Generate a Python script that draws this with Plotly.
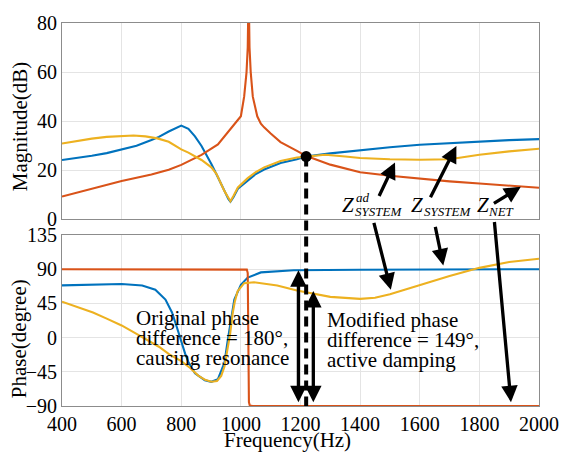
import plotly.graph_objects as go

# ---------------- data ----------------
# Magnitude (dB)
f_sys_mag = [400, 450, 500, 550, 600, 650, 700, 725, 758, 780, 800, 824, 846, 868, 884, 901,
             923, 945, 958, 965, 975, 990, 1023, 1050, 1078, 1133, 1188, 1218, 1300, 1400,
             1500, 1600, 1700, 1800, 1900, 2000]
z_sys_mag = [24.2, 25.0, 25.9, 27.0, 28.5, 30.0, 32.3, 33.6, 35.8, 37.2, 38.2, 36.9, 33.8, 29.9,
             26.5, 22.6, 17.2, 11.3, 8.3, 7.2, 9.0, 12.5, 15.9, 18.5, 20.3, 23.0, 24.5, 25.6,
             26.9, 28.3, 29.4, 30.4, 31.1, 31.8, 32.3, 32.7]

f_net_mag = [400, 500, 600, 700, 758, 800, 868, 923, 967, 984, 1000, 1011, 1019, 1023, 1026,
             1029, 1033, 1040, 1045, 1055, 1067, 1078, 1100, 1133, 1188, 1218, 1300, 1400,
             1500, 1600, 1700, 1800, 1900, 2000]
z_net_mag = [9.3, 12.5, 15.6, 18.3, 20.2, 22.2, 26.3, 30.5, 37.1, 39.5, 42.0, 50.0, 60.0, 70.0,
             95.0, 70.0, 60.0, 50.0, 47.0, 42.0, 39.0, 37.5, 35.0, 31.5, 27.9, 25.9, 22.3,
             19.2, 17.8, 16.6, 15.5, 14.6, 13.7, 12.9]

f_ad_mag = [400, 450, 500, 550, 600, 640, 680, 720, 758, 800, 824, 853, 868, 901, 918, 945, 958,
            965, 975, 990, 1023, 1050, 1078, 1133, 1188, 1218, 1283, 1350, 1400, 1500, 1600,
            1700, 1800, 1900, 2000]
z_ad_mag = [30.9, 32.0, 32.9, 33.6, 34.0, 34.2, 33.8, 33.0, 31.6, 28.5, 27.2, 25.2, 24.2, 21.2,
            18.6, 11.5, 8.5, 7.4, 9.5, 13.0, 16.8, 19.3, 21.2, 23.8, 25.2, 25.6, 26.3, 25.6,
            25.0, 24.5, 24.3, 24.5, 26.3, 27.7, 28.8]

# Phase (degree)
f_sys_ph = [400, 500, 600, 669, 713, 747, 769, 785, 800, 813, 824, 846, 879, 901, 923, 945, 956,
            967, 978, 1000, 1023, 1067, 1177, 1400, 1700, 2000]
p_sys_ph = [68.7, 69.5, 70.5, 68.6, 63.0, 50.0, 33.0, 14.0, -6.0, -21.0, -32.0, -47.0, -56.0,
            -58.2, -54.8, -33.0, -3.4, 26.6, 50.0, 69.4, 78.9, 85.8, 88.7, 89.3, 89.8, 90.0]

f_net_ph = [400, 1000, 1020, 1023, 1025, 1027, 1030, 1040, 2000]
p_net_ph = [90.0, 90.0, 89.5, 85.0, 0.0, -85.0, -89.5, -90.0, -90.0]

f_ad_ph = [400, 450, 504, 550, 600, 650, 700, 725, 760, 800, 830, 857, 880, 901, 920, 934, 945,
           956, 964, 972, 980, 989, 1000, 1011, 1044, 1080, 1122, 1188, 1243, 1300, 1400, 1450,
           1500, 1550, 1600, 1700, 1800, 1900, 2000]
p_ad_ph = [47.2, 40.5, 33.0, 25.0, 16.0, 5.0, -6.0, -12.0, -22.0, -31.0, -40.0, -50.0, -55.5,
           -58.0, -57.0, -50.5, -38.0, -16.0, 5.0, 31.0, 48.0, 61.0, 67.0, 71.6, 72.9, 71.0,
           68.5, 62.0, 58.0, 53.6, 51.0, 52.5, 57.0, 63.0, 69.4, 81.0, 91.8, 99.5, 103.7]

# Operating point (intersection) and phase-difference markers
f_cross, mag_cross = 1219, 25.6
f_orig_arrow, ph_orig = 1193, [88.5, -87.0]
f_mod_arrow, ph_mod = 1243, [61.3, -87.0]

x_ticks = [400, 600, 800, 1000, 1200, 1400, 1600, 1800, 2000]
mag_ticks = [0, 20, 40, 60, 80]
ph_ticks = [-90, -45, 0, 45, 90, 135]

# ---------------- layout geometry ----------------
W, H = 571, 453
ML, MR, MT, MB = 62, 25.5, 14, 47
PW, PH = W - ML - MR, H - MT - MB
TOP_PX = (14, 215)
BOT_PX = (231, 406)


def pxx(x):
    return (x - ML) / PW


def pxy(y):
    return (H - MB - y) / PH


top_dom = [pxy(TOP_PX[1]), pxy(TOP_PX[0])]
bot_dom = [pxy(BOT_PX[1]), pxy(BOT_PX[0])]

BLUE, RED, YEL = "#0072BD", "#D95319", "#EDB120"
FONT = "Times New Roman, Liberation Serif, DejaVu Serif, serif"
GRID = "#e4e4e4"
FRAME = "#8c8c8c"

fig = go.Figure()
lw = 2.1
fig.add_trace(go.Scatter(x=f_sys_mag, y=z_sys_mag, mode="lines", line=dict(color=BLUE, width=lw),
                         xaxis="x", yaxis="y", showlegend=False))
fig.add_trace(go.Scatter(x=f_net_mag, y=z_net_mag, mode="lines", line=dict(color=RED, width=lw),
                         xaxis="x", yaxis="y", showlegend=False))
fig.add_trace(go.Scatter(x=f_ad_mag, y=z_ad_mag, mode="lines", line=dict(color=YEL, width=lw),
                         xaxis="x", yaxis="y", showlegend=False))
fig.add_trace(go.Scatter(x=f_sys_ph, y=p_sys_ph, mode="lines", line=dict(color=BLUE, width=lw),
                         xaxis="x2", yaxis="y2", showlegend=False))
fig.add_trace(go.Scatter(x=f_net_ph, y=p_net_ph, mode="lines", line=dict(color=RED, width=lw),
                         xaxis="x2", yaxis="y2", showlegend=False))
fig.add_trace(go.Scatter(x=f_ad_ph, y=p_ad_ph, mode="lines", line=dict(color=YEL, width=lw),
                         xaxis="x2", yaxis="y2", showlegend=False))

# operating point dot
fig.add_trace(go.Scatter(x=[f_cross], y=[mag_cross], mode="markers",
                         marker=dict(color="black", size=11), xaxis="x", yaxis="y",
                         showlegend=False, cliponaxis=False))

tickfont = dict(family=FONT, size=20, color="black")
common_x = dict(range=[400, 2000], tickvals=x_ticks, showgrid=True, gridcolor=GRID, gridwidth=1,
                showline=True, mirror=True, linecolor=FRAME, linewidth=1, zeroline=False,
                ticks="", tickfont=tickfont)
common_y = dict(showgrid=True, gridcolor=GRID, gridwidth=1, showline=True, mirror=True,
                linecolor=FRAME, linewidth=1, zeroline=False, ticks="", tickfont=tickfont)

fig.update_layout(
    width=W, height=H,
    margin=dict(l=ML, r=MR, t=MT, b=MB),
    paper_bgcolor="white", plot_bgcolor="white",
    font=dict(family=FONT, color="black"),
    xaxis=dict(domain=[0, 1], anchor="y", showticklabels=False, matches="x2", **common_x),
    yaxis=dict(domain=top_dom, anchor="x", range=[0, 80], tickvals=mag_ticks, **common_y),
    xaxis2=dict(domain=[0, 1], anchor="y2", **common_x),
    yaxis2=dict(domain=bot_dom, anchor="x2", range=[-90, 135], tickvals=ph_ticks, **common_y),
)

# dashed vertical line from the operating point down through the phase plot
y_dot_paper = top_dom[0] + (mag_cross - 0) / 80 * (top_dom[1] - top_dom[0])
fig.add_shape(type="line", xref="x", yref="paper", x0=f_cross, x1=f_cross,
              y0=y_dot_paper, y1=bot_dom[0],
              line=dict(color="black", width=4, dash="10px,6px"))

ann = []
AW = 3.3
# double-headed arrows (phase differences)
for fx, (p0, p1) in [(f_orig_arrow, ph_orig), (f_mod_arrow, ph_mod)]:
    ann.append(dict(x=fx, y=p0, xref="x2", yref="y2", ax=fx, ay=p1, axref="x2", ayref="y2",
                    text="", showarrow=True, arrowhead=2, startarrowhead=2, arrowside="end+start",
                    arrowsize=1.0, startarrowsize=1.0, arrowwidth=AW, arrowcolor="black",
                    standoff=0, startstandoff=0))

# pointer arrows: (xref, yref, head x, head y, tail dx px, tail dy px)
pointers = [
    ("x", "y", 1517, 23.2, -16.6, 35.0),
    ("x", "y", 1723, 29.9, -26.7, 52.7),
    ("x", "y", 1939, 13.3, -28.4, 17.6),
    ("x2", "y2", 1503, 63.0, -17.3, -68.4),
    ("x2", "y2", 1679, 95.0, -8.3, -40.0),
    ("x2", "y2", 1906, -85.0, -16.7, -181.7),
]
for xr, yr, hx, hy, dx, dy in pointers:
    ann.append(dict(x=hx, y=hy, xref=xr, yref=yr, ax=dx, ay=dy, text="", showarrow=True,
                    arrowhead=2, arrowsize=1.0, arrowwidth=AW, arrowcolor="black", standoff=0))


def txt(s, x, y, size=21, xanchor="left", yanchor="middle", angle=0):
    ann.append(dict(text=s, x=pxx(x), y=pxy(y), xref="paper", yref="paper", showarrow=False,
                    xanchor=xanchor, yanchor=yanchor, textangle=angle,
                    font=dict(family=FONT, size=size, color="black")))


# curve labels
txt("<i>Z</i>", 344, 200)
txt("<i>ad</i>", 358, 193, size=13)
txt("<i>SYSTEM</i>", 357, 207, size=13)
txt("<i>Z</i>", 414, 200)
txt("<i>SYSTEM</i>", 427, 207, size=13)
txt("<i>Z</i>", 481, 200)
txt("<i>NET</i>", 492, 207, size=13)

# explanatory text
for i, s in enumerate(["Original phase", "difference = 180°,", "causing resonance"]):
    txt(s, 135, 316 + 20.5 * i)
for i, s in enumerate(["Modified phase", "difference = 149°,", "active damping"]):
    txt(s, 329, 318 + 20.5 * i)

# axis titles
txt("Magnitude(dB)", 19, 120, xanchor="center", angle=-90)
txt("Phase(degree)", 18, 337, xanchor="center", angle=-90)
txt("Frequency(Hz)", 291, 441, xanchor="center")

fig.update_layout(annotations=ann)
fig.write_html("out.html")
